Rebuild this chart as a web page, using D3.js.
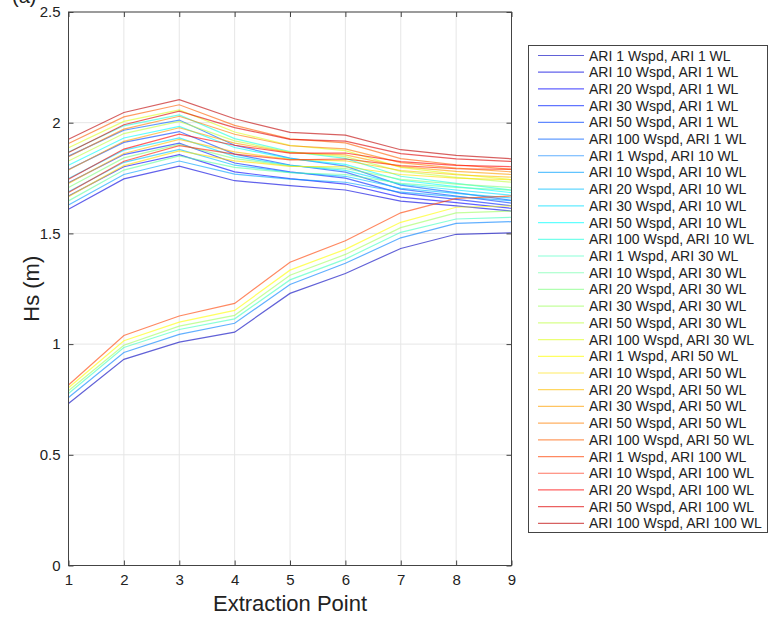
<!DOCTYPE html>
<html><head><meta charset="utf-8">
<script src="https://cdn.jsdelivr.net/npm/d3@7"></script>
<style>body{margin:0;background:#fff}svg{display:block;font-family:"Liberation Sans",Arial,sans-serif}</style>
</head><body><svg id="c" width="771" height="620"></svg>
<script>
const extractionPoints = [1,2,3,4,5,6,7,8,9];
const xTicks = [1,2,3,4,5,6,7,8,9];
const yTicks = [0,0.5,1,1.5,2,2.5];
const seriesNames = [
 "ARI 1 Wspd, ARI 1 WL","ARI 10 Wspd, ARI 1 WL","ARI 20 Wspd, ARI 1 WL","ARI 30 Wspd, ARI 1 WL","ARI 50 Wspd, ARI 1 WL","ARI 100 Wspd, ARI 1 WL",
 "ARI 1 Wspd, ARI 10 WL","ARI 10 Wspd, ARI 10 WL","ARI 20 Wspd, ARI 10 WL","ARI 30 Wspd, ARI 10 WL","ARI 50 Wspd, ARI 10 WL","ARI 100 Wspd, ARI 10 WL",
 "ARI 1 Wspd, ARI 30 WL","ARI 10 Wspd, ARI 30 WL","ARI 20 Wspd, ARI 30 WL","ARI 30 Wspd, ARI 30 WL","ARI 50 Wspd, ARI 30 WL","ARI 100 Wspd, ARI 30 WL",
 "ARI 1 Wspd, ARI 50 WL","ARI 10 Wspd, ARI 50 WL","ARI 20 Wspd, ARI 50 WL","ARI 30 Wspd, ARI 50 WL","ARI 50 Wspd, ARI 50 WL","ARI 100 Wspd, ARI 50 WL",
 "ARI 1 Wspd, ARI 100 WL","ARI 10 Wspd, ARI 100 WL","ARI 20 Wspd, ARI 100 WL","ARI 50 Wspd, ARI 100 WL","ARI 100 Wspd, ARI 100 WL"
];

const hsValues = [
 [0.732,0.931,1.009,1.054,1.229,1.319,1.432,1.496,1.503],
 [1.609,1.746,1.804,1.738,1.716,1.696,1.646,1.624,1.601],
 [1.669,1.801,1.856,1.778,1.747,1.723,1.664,1.639,1.613],
 [1.729,1.856,1.908,1.818,1.778,1.750,1.682,1.654,1.625],
 [1.789,1.911,1.960,1.858,1.809,1.777,1.700,1.669,1.637],
 [1.849,1.966,2.012,1.898,1.840,1.804,1.718,1.684,1.649],
 [0.759,0.962,1.044,1.094,1.269,1.365,1.480,1.545,1.553],
 [1.628,1.766,1.827,1.768,1.745,1.731,1.686,1.666,1.648],
 [1.688,1.821,1.879,1.808,1.776,1.758,1.704,1.681,1.660],
 [1.748,1.876,1.931,1.848,1.807,1.785,1.722,1.696,1.672],
 [1.808,1.931,1.983,1.888,1.838,1.812,1.740,1.711,1.684],
 [1.868,1.986,2.035,1.928,1.869,1.839,1.758,1.726,1.696],
 [0.777,0.985,1.066,1.114,1.290,1.384,1.505,1.565,1.573],
 [1.647,1.786,1.850,1.798,1.774,1.766,1.726,1.708,1.695],
 [1.707,1.841,1.902,1.838,1.805,1.793,1.744,1.723,1.707],
 [0.789,0.995,1.081,1.130,1.311,1.405,1.526,1.593,1.601],
 [1.827,1.951,2.006,1.918,1.867,1.847,1.780,1.753,1.731],
 [1.887,2.006,2.058,1.958,1.898,1.874,1.798,1.768,1.743],
 [0.803,1.015,1.099,1.152,1.334,1.428,1.550,1.618,1.624],
 [1.666,1.806,1.873,1.828,1.803,1.801,1.766,1.750,1.742],
 [1.726,1.861,1.925,1.868,1.834,1.828,1.784,1.765,1.754],
 [1.786,1.916,1.977,1.908,1.865,1.855,1.802,1.780,1.766],
 [1.846,1.971,2.029,1.948,1.896,1.882,1.820,1.795,1.778],
 [1.906,2.026,2.081,1.988,1.927,1.909,1.838,1.810,1.790],
 [0.815,1.039,1.127,1.184,1.370,1.467,1.593,1.658,1.669],
 [1.685,1.826,1.896,1.858,1.832,1.836,1.806,1.792,1.789],
 [1.745,1.881,1.948,1.898,1.863,1.863,1.824,1.807,1.801],
 [1.865,1.991,2.052,1.978,1.925,1.917,1.860,1.837,1.825],
 [1.925,2.046,2.104,2.018,1.956,1.944,1.878,1.852,1.837]
];

// MATLAB jet colormap
function jet(m){
  const n = Math.ceil(m/4);
  const u = [];
  for(let i=1;i<=n;i++) u.push(i/n);
  for(let i=1;i<n;i++) u.push(1);
  for(let i=n;i>=1;i--) u.push(i/n);
  const off = Math.ceil(n/2) - (m%4===1?1:0);
  const cols = Array.from({length:m},()=>[0,0,0]);
  u.forEach((v,k)=>{
    const g = off + k + 1, r = g + n, b = g - n;
    if(g>=1&&g<=m) cols[g-1][1]=v;
    if(r>=1&&r<=m) cols[r-1][0]=v;
    if(b>=1&&b<=m) cols[b-1][2]=v;
  });
  return cols.map(c=>d3.rgb(c[0]*255,c[1]*255,c[2]*255).formatHex());
}
const colors = jet(hsValues.length);

const svg = d3.select("#c");
const L=68.5, R=511.5, T=12, B=565.5;
const x = d3.scaleLinear().domain([1,9]).range([L,R]);
const y = d3.scaleLinear().domain([0,2.5]).range([B,T]);

// grid
const g = svg.append("g");
g.selectAll(".gx").data(xTicks).join("line").attr("x1",d=>x(d)).attr("x2",d=>x(d)).attr("y1",T).attr("y2",B).attr("stroke","#e6e6e6");
g.selectAll(".gy").data(yTicks).join("line").attr("y1",d=>y(d)).attr("y2",d=>y(d)).attr("x1",L).attr("x2",R).attr("stroke","#e6e6e6");

// lines
const line = d3.line().x((d,i)=>x(extractionPoints[i])).y(d=>y(d));
svg.append("g").selectAll("path").data(hsValues).join("path")
  .attr("d",line).attr("fill","none").attr("stroke",(d,i)=>colors[i]).attr("stroke-opacity",0.62).attr("stroke-width",1.2);

// axes box
svg.append("rect").attr("x",L).attr("y",T).attr("width",R-L).attr("height",B-T).attr("fill","none").attr("stroke","#444").attr("stroke-width",1);
const axL = d3.axisLeft(y).tickValues(yTicks).tickSize(-5).tickPadding(8).tickFormat(d3.format("~g"));
const axB = d3.axisBottom(x).tickValues(xTicks).tickSize(-5).tickPadding(9);
const axR = d3.axisRight(y).tickValues(yTicks).tickSize(-5).tickFormat("");
const axT = d3.axisTop(x).tickValues(xTicks).tickSize(-5).tickFormat("");
function style(sel){sel.select(".domain").remove(); sel.selectAll("line").attr("stroke","#444"); sel.selectAll("text").attr("fill","#222").style("font-size","15px").style("font-family","'Liberation Sans',Arial,sans-serif");}
svg.append("g").attr("transform",`translate(${L},0)`).call(axL).call(style);
svg.append("g").attr("transform",`translate(0,${B})`).call(axB).call(style);
svg.append("g").attr("transform",`translate(${R},0)`).call(axR).call(style);
svg.append("g").attr("transform",`translate(0,${T})`).call(axT).call(style);

// labels
svg.append("text").attr("x",(L+R)/2).attr("y",611).attr("text-anchor","middle").style("font-size","22px").attr("fill","#222").text("Extraction Point");
svg.append("text").attr("transform",`translate(39,${(T+B)/2}) rotate(-90)`).attr("text-anchor","middle").style("font-size","22px").attr("fill","#222").text("Hs (m)");
svg.append("text").attr("x",12).attr("y",3).style("font-size","20px").attr("fill","#222").text("(a)");

// legend
const lg = svg.append("g");
lg.append("rect").attr("x",528.5).attr("y",45.5).attr("width",239).attr("height",487).attr("fill","#fff").attr("stroke","#444");
const items = lg.selectAll("g.it").data(seriesNames).join("g").attr("transform",(d,i)=>`translate(0,${55.5+i*16.71})`);
items.append("line").attr("x1",538).attr("x2",584).attr("y1",0).attr("y2",0).attr("stroke",(d,i)=>colors[i]).attr("stroke-opacity",0.62).attr("stroke-width",1.2);
items.append("text").attr("x",589).attr("y",5).style("font-size","14px").attr("fill","#222").text(d=>d);
</script></body></html>
